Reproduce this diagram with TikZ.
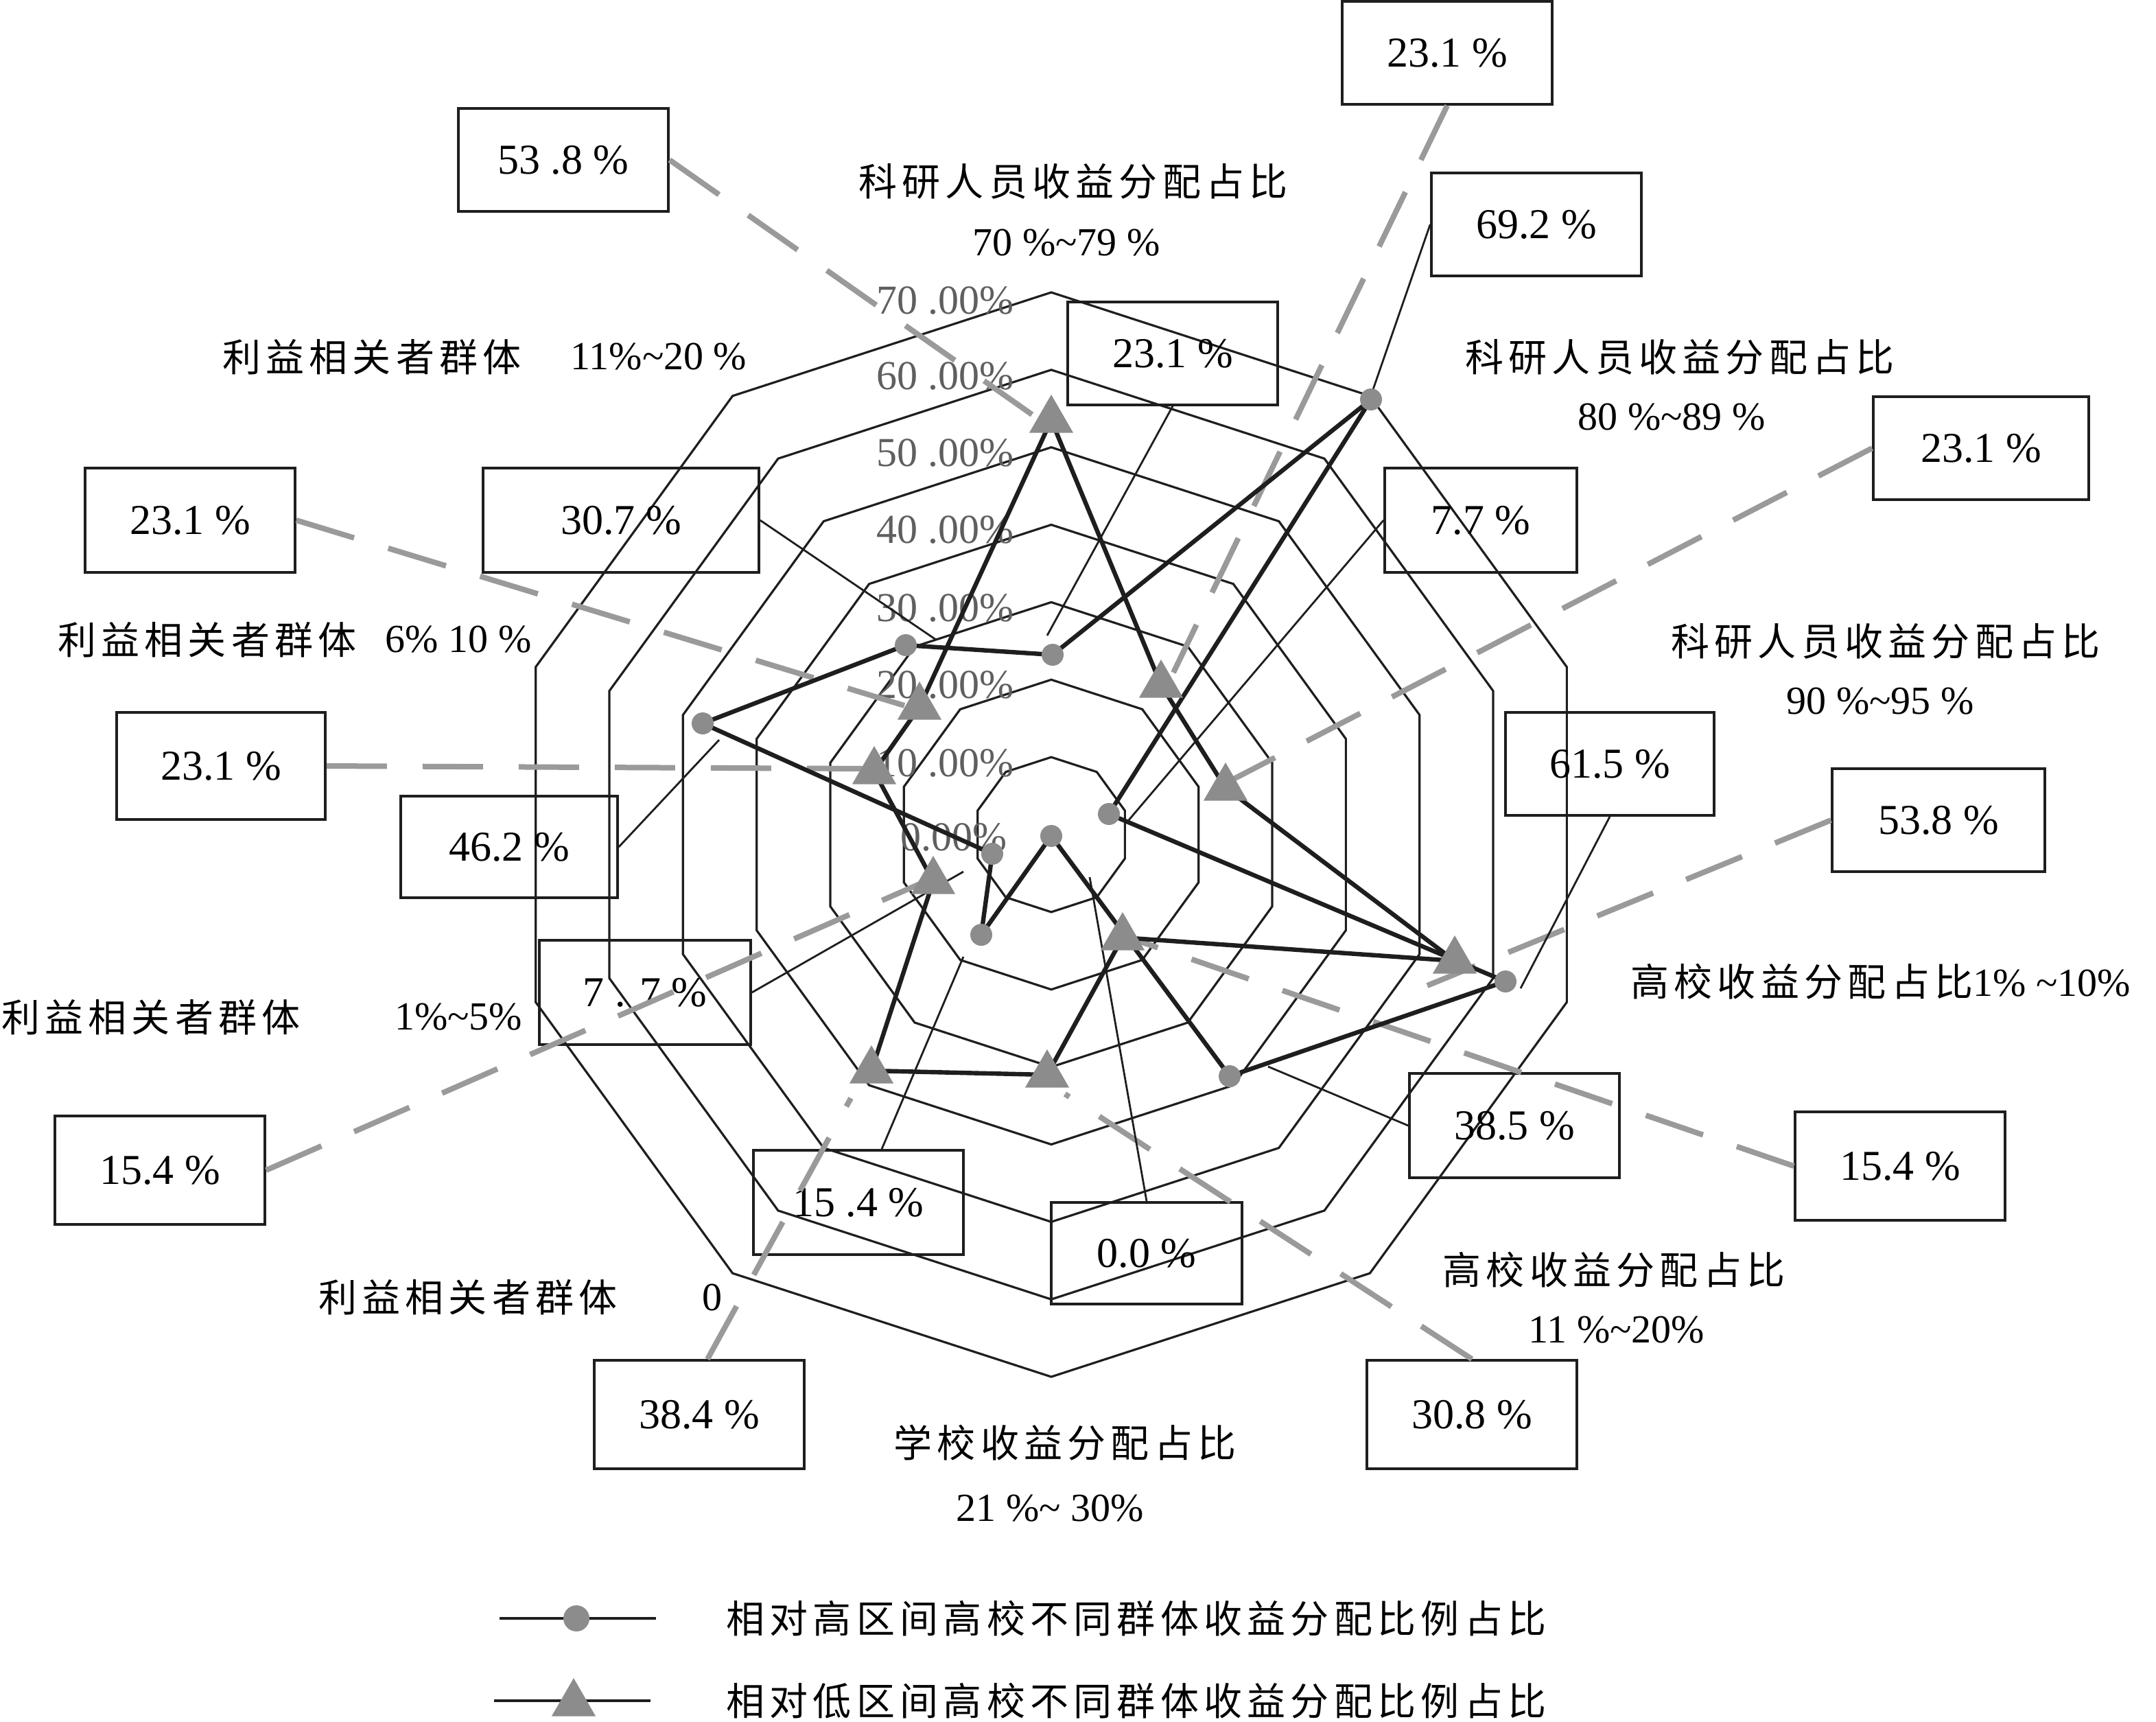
\documentclass[tikz,border=0pt]{standalone}
\usepackage{fontspec}
\setmainfont{Liberation Serif}
\newfontfamily\cjkfam[LetterSpace=13]{Noto Sans CJK SC}
\usetikzlibrary{shapes.geometric,calc}
\newcommand\mytil{\textasciitilde}
\newcommand\cjkf{\cjkfam\fontsize{28pt}{30pt}\selectfont}
\newcommand\numf{\rmfamily\fontsize{31pt}{33pt}\selectfont}
\newcommand\axf{\rmfamily\fontsize{29pt}{31pt}\selectfont}
\newcommand\rlf{\rmfamily\fontsize{30pt}{32pt}\selectfont}
\definecolor{mgray}{HTML}{8C8C8C}
\definecolor{dgray}{HTML}{9A9A9A}
\definecolor{lgray}{HTML}{5F5F5F}
\definecolor{ink}{HTML}{1E1E1E}
\begin{document}
\begin{tikzpicture}[x=1pt,y=-1pt,
  ring/.style={draw=ink, line width=1.6pt, line join=miter},
  series/.style={draw=ink, line width=3.2pt, line join=round},
  box/.style={draw=ink, line width=1.8pt, rectangle, inner sep=0pt, font=\numf},
  lowlead/.style={draw=dgray, line width=4pt, dash pattern=on 44pt off 26pt},
  highlead/.style={draw=ink, line width=1.4pt},
  hmark/.style={circle, fill=mgray, inner sep=0pt, minimum size=16pt},
  lmark/.style={regular polygon, regular polygon sides=3, fill=mgray, inner sep=0pt, minimum size=37pt},
  cjkt/.style={inner sep=0pt, font=\cjkf},
  numt/.style={inner sep=0pt, font=\axf},
  rlab/.style={inner sep=0pt, font=\rlf, text=lgray, anchor=east},
  legline/.style={draw=ink, line width=1.9pt}
]
\useasboundingbox (0,0) rectangle (1571,1254);

% rings
\begin{scope}[shift={(766,608)}]
\foreach \k in {1,...,7}{
  \pgfmathsetmacro\r{56.43*\k}
  \draw[ring] (90:\r) \foreach \a in {1,...,9}{ -- ({90+36*\a}:\r)} -- cycle;
}
\end{scope}

% ring labels
\node[rlab] (r7) at (739,219) {70 .00\%};
\node[rlab] (r6) at (739,274) {60 .00\%};
\node[rlab] (r5) at (739,330) {50 .00\%};
\node[rlab] (r4) at (739,386) {40 .00\%};
\node[rlab] (r3) at (739,443) {30 .00\%};
\node[rlab] (r2) at (739,499) {20 .00\%};
\node[rlab] (r1) at (739,556) {10 .00\%};
\node[rlab] (r0) at (734,610) {0.00\%};

% axis labels
\node[cjkt] (L1a) at (782,132) {科研人员收益分配占比};
\node[numt] (L1b) at (777,177) {70 \%\mytil 79 \%};
\node[cjkt] (L2a) at (1224,260) {科研人员收益分配占比};
\node[numt] (L2b) at (1218,304) {80 \%\mytil 89 \%};
\node[cjkt] (L3a) at (1374,467) {科研人员收益分配占比};
\node[numt] (L3b) at (1370,511) {90 \%\mytil 95 \%};
\node[cjkt, anchor=west] (L4) at (1188,715) {高校收益分配占比\axf 1\% \mytil 10\%};
\node[cjkt] (L5a) at (1176,925) {高校收益分配占比};
\node[numt] (L5b) at (1178,969) {11 \%\mytil 20\%};
\node[cjkt] (L6a) at (776,1051) {学校收益分配占比};
\node[numt] (L6b) at (765,1099) {21 \%\mytil\ 30\%};
\node[cjkt] (L7a) at (341,945) {利益相关者群体};
\node[numt] (L7b) at (519,945) {0};
\node[cjkt] (L8a) at (110,741) {利益相关者群体};
\node[numt] (L8b) at (334,741) {1\%\mytil 5\%};
\node[cjkt] (L9a) at (151,466) {利益相关者群体};
\node[numt] (L9b) at (334,466) {6\% 10 \%};
\node[cjkt] (L10a) at (271,260) {利益相关者群体};
\node[numt] (L10b) at (480,260) {11\%\mytil 20 \%};

% value boxes
\node[box, minimum width=153pt, minimum height=75pt] (B1) at (1054.5,38.5) {23.1 \%};
\node[box, minimum width=153pt, minimum height=75pt] (B2) at (1119.5,163.5) {69.2 \%};
\node[box, minimum width=153pt, minimum height=75pt] (B3) at (410.5,116.5) {53 .8 \%};
\node[box, minimum width=153pt, minimum height=75pt] (B4) at (854.5,257.5) {23.1 \%};
\node[box, minimum width=157pt, minimum height=75pt] (B5) at (1443.5,326.5) {23.1 \%};
\node[box, minimum width=140pt, minimum height=76pt] (B6) at (1079,379) {7.7 \%};
\node[box, minimum width=153pt, minimum height=76pt] (B7) at (138.5,379) {23.1 \%};
\node[box, minimum width=201pt, minimum height=76pt] (B8) at (452.5,379) {30.7 \%};
\node[box, minimum width=152pt, minimum height=75pt] (B9) at (1173,556.5) {61.5 \%};
\node[box, minimum width=155pt, minimum height=75pt] (B10) at (1412.5,597.5) {53.8 \%};
\node[box, minimum width=152pt, minimum height=78pt] (B11) at (161,558) {23.1 \%};
\node[box, minimum width=158pt, minimum height=74pt] (B12) at (371,617) {46.2 \%};
\node[box, minimum width=154pt, minimum height=76pt] (B13) at (470,723) {7 . 7 \%};
\node[box, minimum width=153pt, minimum height=79pt] (B14) at (116.5,852.5) {15.4 \%};
\node[box, minimum width=153pt, minimum height=76pt] (B15) at (1103.5,820) {38.5 \%};
\node[box, minimum width=153pt, minimum height=79pt] (B16) at (1384.5,849.5) {15.4 \%};
\node[box, minimum width=153pt, minimum height=76pt] (B17) at (625.5,876) {15 .4 \%};
\node[box, minimum width=139pt, minimum height=74pt] (B18) at (835.5,913) {0.0 \%};
\node[box, minimum width=153pt, minimum height=79pt] (B19) at (1072.5,1030.5) {30.8 \%};
\node[box, minimum width=153pt, minimum height=79pt] (B20) at (509.5,1030.5) {38.4 \%};

% leader end points
\coordinate (d1) at (855,490);
\coordinate (d2) at (752,302);
\coordinate (d3) at (896,569);
\coordinate (d4) at (659,514);
\coordinate (d5) at (1040,718);
\coordinate (d6) at (630,560);
\coordinate (d7) at (670,644);
\coordinate (d8) at (828,685);
\coordinate (d9) at (776,797);
\coordinate (d10) at (620,800);
\coordinate (t1) at (763,463);
\coordinate (t2) at (999,288);
\coordinate (t3) at (822,598);
\coordinate (t4) at (682,466);
\coordinate (t5) at (524,539);
\coordinate (t6) at (702,635);
\coordinate (t7) at (1108,720);
\coordinate (t8) at (924,777);
\coordinate (t9) at (702,697);
\coordinate (t10) at (794,639);

% dashed leaders (low series)
\draw[lowlead] (B1.south) -- (d1);
\draw[lowlead] (B3.east) -- (d2);
\draw[lowlead] (B5.west) -- (d3);
\draw[lowlead] (B7.east) -- (d4);
\draw[lowlead] (B10.west) -- (d5);
\draw[lowlead] (B11.east) -- (d6);
\draw[lowlead] (B14.east) -- (d7);
\draw[lowlead] (B16.west) -- (d8);
\draw[lowlead] (B19.north) -- (d9);
\draw[lowlead] ($(B20.north)+(6,0)$) -- (d10);

% thin leaders (high series)
\draw[highlead] (B4.south) -- (t1);
\draw[highlead] (B2.west) -- (t2);
\draw[highlead] (B6.west) -- (t3);
\draw[highlead] (B8.east) -- (t4);
\draw[highlead] (B12.east) -- (t5);
\draw[highlead] (B13.east) -- (t6);
\draw[highlead] (B9.south) -- (t7);
\draw[highlead] (B15.west) -- (t8);
\draw[highlead] ($(B17.north)+(17,0)$) -- (t9);
\draw[highlead] (B18.north) -- (t10);

% series points
\coordinate (h1) at (767,477);
\coordinate (h2) at (999,291);
\coordinate (h3) at (808,593);
\coordinate (h4) at (1097,715);
\coordinate (h5) at (896,784);
\coordinate (h6) at (766,609);
\coordinate (h7) at (715,681);
\coordinate (h8) at (723,622);
\coordinate (h9) at (512,527);
\coordinate (h10) at (660,470);
\coordinate (l1) at (766,306);
\coordinate (l2) at (846,499);
\coordinate (l3) at (893,574);
\coordinate (l4) at (1060,700);
\coordinate (l5) at (818,683);
\coordinate (l6) at (763,783);
\coordinate (l7) at (635,780);
\coordinate (l8) at (680,642);
\coordinate (l9) at (637,562);
\coordinate (l10) at (670,515);

\draw[series] (h1) -- (h2) -- (h3) -- (h4) -- (h5) -- (h6) -- (h7) -- (h8) -- (h9) -- (h10) -- cycle;
\draw[series] (l1) -- (l2) -- (l3) -- (l4) -- (l5) -- (l6) -- (l7) -- (l8) -- (l9) -- (l10) -- cycle;

\foreach \i in {1,...,10}{
  \node[hmark] (hm\i) at (h\i) {};
  \node[lmark] (lm\i) at (l\i) {};
}

% legend
\coordinate (lga) at (364,1179);
\coordinate (lgb) at (478,1179);
\coordinate (lgc) at (360,1239);
\coordinate (lgd) at (474,1239);
\draw[legline] (lga) -- (lgb);
\draw[legline] (lgc) -- (lgd);
\node[hmark, minimum size=19pt] (lg1) at (420,1179) {};
\node[lmark] (lg2) at (418,1241) {};
\node[cjkt, anchor=west] (lt1) at (529,1179) {相对高区间高校不同群体收益分配比例占比};
\node[cjkt, anchor=west] (lt2) at (529,1239) {相对低区间高校不同群体收益分配比例占比};
\end{tikzpicture}
\end{document}
